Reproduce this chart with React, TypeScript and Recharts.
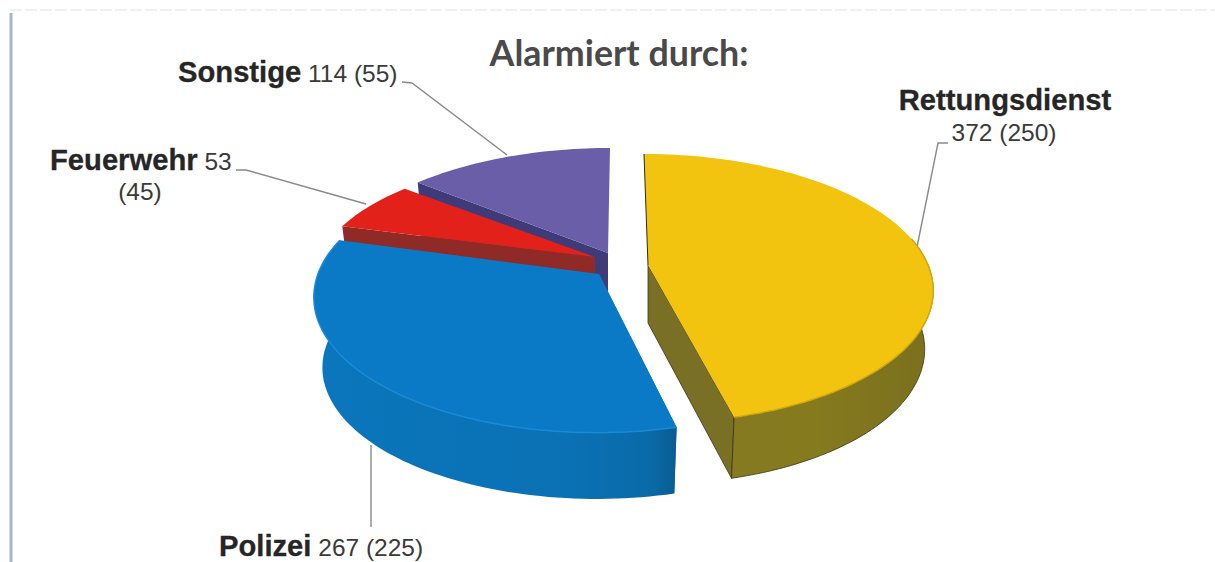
import React from "react";
import { PieChart, Pie } from "recharts";

// Data, in paint order (back to front)
const categories = ["Sonstige", "Feuerwehr", "Polizei", "Rettungsdienst"];
const values = [114, 53, 267, 372];
const previous = [55, 45, 225, 250];
const title = "Alarmiert durch:";

const W = 1215;
const H = 562;
const SANS = "'Liberation Sans', Arial, sans-serif";

type Proj = {
  ax: number; ay: number; R: number; Rs: number; k: number; shear: number;
  d0: number; sx: number; sy: number; top: string; wall: string; arcWall: boolean; edgeWall: "start" | "end";
  ridge?: string; wallTo?: number;
};

const projections: Record<string, Proj> = {
  Sonstige: { ax: 608, ay: 253, R: 278, Rs: 126, k: 0.2, shear: 2.4, d0: 60, sx: 0.97, sy: 0.97, top: "#6a5ea8", wall: "#3f3a78", arcWall: false, edgeWall: "end" },
  Feuerwehr: { ax: 595, ay: 257, R: 276, Rs: 122, k: 0.2, shear: 0, d0: 60, sx: 0.97, sy: 0.97, top: "#e2211b", wall: "#8f2a26", arcWall: false, edgeWall: "end" },
  Polizei: { ax: 599, ay: 274, R: 281, Rs: 132.8, k: 0.163, shear: 2, d0: 71, sx: 0.97, sy: 0.97, top: "#0b7ac6", wall: "url(#blueWall)", arcWall: true, edgeWall: "end", ridge: "#1a8ad6" },
  Rettungsdienst: { ax: 648, ay: 265, R: 280, Rs: 130.3, k: 0.174, shear: -4.7, d0: 58, sx: 0.97, sy: 1.02, top: "#f3c40f", wall: "url(#yellowWall)", arcWall: true, edgeWall: "start", ridge: "#cfa912", wallTo: 372 },
};

function pt(p: Proj, deg: number, bottom = false): [number, number] {
  const a = (deg * Math.PI) / 180;
  const u = Math.cos(a);
  const v = Math.sin(a);
  const w = 1 + p.k * v;
  const dx = (p.R * u + p.shear * v) / w;
  const dy = (-p.Rs * v) / w;
  return bottom
    ? [p.ax + p.sx * dx, p.ay + p.d0 + p.sy * dy]
    : [p.ax + dx, p.ay + dy];
}

function poly(points: [number, number][]) {
  return "M" + points.map((q) => q[0].toFixed(1) + " " + q[1].toFixed(1)).join("L") + "Z";
}

function arcAngles(a: number, b: number) {
  const out: number[] = [];
  const n = Math.max(2, Math.ceil(Math.abs(b - a) / 1.5));
  for (let i = 0; i <= n; i++) out.push(a + ((b - a) * i) / n);
  return out;
}

function Slice3D(props: any) {
  const name = props.name ?? props.payload?.name;
  const p = projections[name];
  const lo = Math.min(props.startAngle, props.endAngle);
  const hi = Math.max(props.startAngle, props.endAngle);
  const angles = arcAngles(lo, hi);
  const apex: [number, number] = [p.ax, p.ay];
  const apexB: [number, number] = [p.ax, p.ay + p.d0];
  const topPath = poly([apex, ...angles.map((t) => pt(p, t))]);
  const edge = p.edgeWall === "start" ? lo : hi;
  const edgePath = poly([apex, pt(p, edge), pt(p, edge, true), apexB]);
  const isYellow = name === "Rettungsdienst";
  let arcPath = "";
  let ridgePath = "";
  if (p.arcWall) {
    const wallAngles = arcAngles(lo, Math.min(hi, p.wallTo ?? hi));
    const topPts = wallAngles.map((t) => pt(p, t));
    const botPts = wallAngles.map((t) => pt(p, t, true)).reverse();
    arcPath = poly([...topPts, ...botPts]);
    ridgePath = "M" + topPts.map((q) => q[0].toFixed(1) + " " + q[1].toFixed(1)).join("L");
  }
  const outline = isYellow ? "#3a3510" : "none";
  return (
    <g>
      <path d={edgePath} fill={isYellow ? "#7a7025" : p.wall} stroke={outline} strokeWidth={0.8} />
      {arcPath && <path d={arcPath} fill={p.wall} stroke={outline} strokeWidth={0.8} />}
      <path d={topPath} fill={p.top} />
      {ridgePath && <path d={ridgePath} fill="none" stroke={p.ridge} strokeWidth={1.5} />}
      {isYellow && (
        <path d={`M${apex[0]} ${apex[1]}L${pt(p, hi)[0]} ${pt(p, hi)[1]}`} stroke="#2e2a10" strokeWidth={1} />
      )}
    </g>
  );
}

const chartData = categories.map((name, i) => ({ name, value: values[i], prev: previous[i] }));

const leaders = [
  "402,82 412,83 507,155",
  "236,170 246,170 366,204",
  "371,445 371,527",
  "948,143 938,143 917,247",
];

const big = { fontFamily: SANS, fontWeight: 700, fontSize: 29.2, fill: "#262626", stroke: "#262626", strokeWidth: 0.3 } as const;
const small = { fontFamily: SANS, fontWeight: 400, fontSize: 24.5, fill: "#3a3a3a" } as const;

export default function App() {
  const [son, feu, pol, ret] = chartData;
  return (
    <div style={{ position: "absolute", left: 0, top: 0, width: W, height: H, background: "#fff" }}>
      <PieChart width={W} height={H} margin={{ top: 0, right: 0, bottom: 0, left: 0 }}>
        <defs>
          <linearGradient id="blueWall" x1="0" y1="0" x2="1" y2="0">
            <stop offset="0" stopColor="#0b76bc" />
            <stop offset="0.7" stopColor="#0a71b4" />
            <stop offset="0.93" stopColor="#0a6aa8" />
            <stop offset="1" stopColor="#095c92" />
          </linearGradient>
          <linearGradient id="yellowWall" x1="0" y1="0" x2="1" y2="0">
            <stop offset="0" stopColor="#857a20" />
            <stop offset="0.4" stopColor="#867a1e" />
            <stop offset="1" stopColor="#7a701e" />
          </linearGradient>
        </defs>
        <line x1={11} y1={13} x2={11} y2={562} stroke="#aab5c8" strokeWidth={3} />
        <line x1={10} y1={10} x2={1215} y2={10} stroke="#e2e2e2" strokeWidth={1} strokeDasharray="12 3" />
        <Pie
          data={chartData}
          dataKey="value"
          nameKey="name"
          cx={600}
          cy={280}
          innerRadius={0}
          outerRadius={280}
          startAngle={90}
          endAngle={450}
          paddingAngle={0}
          stroke="none"
          isAnimationActive={false}
          labelLine={false}
          label={false}
          shape={Slice3D}
        />
        {leaders.map((points) => (
          <polyline key={points} points={points} fill="none" stroke="#8a8a8a" strokeWidth={1.4} />
        ))}
        <text x={619} y={66} textAnchor="middle" style={{ fontFamily: "Lato, sans-serif", fontWeight: 700, fontSize: 35.8, fill: "#4a4a4a" }}>
          {title}
        </text>
        <text x={178} y={82}>
          <tspan style={big}>{son.name}</tspan>
          <tspan style={small}>{` ${son.value} (${son.prev})`}</tspan>
        </text>
        <text x={50} y={170}>
          <tspan style={big}>{feu.name}</tspan>
          <tspan style={small}>{` ${feu.value}`}</tspan>
        </text>
        <text x={140} y={200} textAnchor="middle" style={small}>{`(${feu.prev})`}</text>
        <text x={1005} y={110} textAnchor="middle" style={big}>{ret.name}</text>
        <text x={1004} y={141} textAnchor="middle" style={small}>{`${ret.value} (${ret.prev})`}</text>
        <text x={219} y={556}>
          <tspan style={big}>{pol.name}</tspan>
          <tspan style={small}>{` ${pol.value} (${pol.prev})`}</tspan>
        </text>
      </PieChart>
    </div>
  );
}
